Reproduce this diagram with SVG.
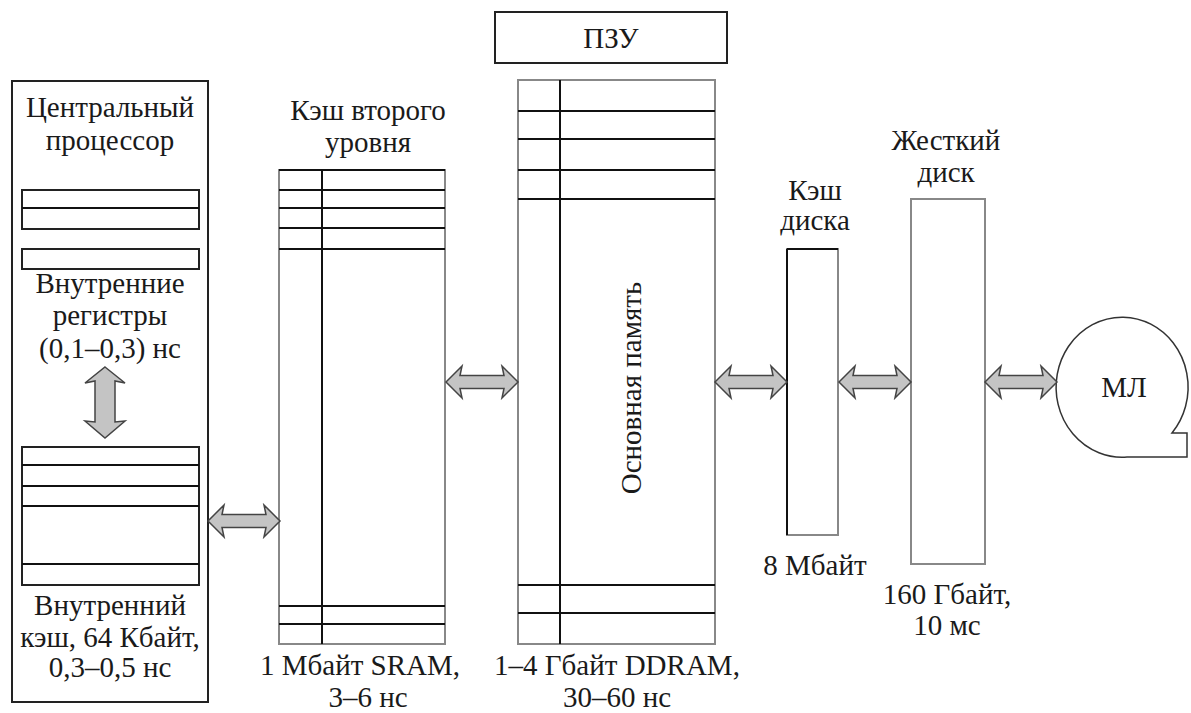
<svg xmlns="http://www.w3.org/2000/svg" width="1191" height="713" viewBox="0 0 1191 713" font-family="'Liberation Serif', 'Times New Roman', serif">
<style>
text{font-size:29px;fill:#1a1a1a;text-anchor:middle}
.box{fill:#fff;stroke:#222;stroke-width:2}
.gbox{fill:#fff;stroke:#888;stroke-width:2}
.ln{stroke:#111;stroke-width:2;fill:none}
.arr{fill:#c4c4c4;stroke:#444;stroke-width:1.5;stroke-linejoin:miter}
</style>
<defs>
<path id="harr" d="M0,0 L16,-16 L14,-6.5 L58,-6.5 L56,-16 L72,0 L56,16 L58,6.5 L14,6.5 L16,16 Z"/>
</defs>
<rect width="1191" height="713" fill="#fff"/>

<g id="cpu">
<rect class="box" x="12" y="81" width="196" height="621"/>
<text x="110" y="117">Центральный</text>
<text x="110" y="150">процессор</text>
<rect class="box" x="22" y="190" width="177" height="39"/>
<line class="ln" x1="22" y1="208" x2="199" y2="208"/>
<rect class="box" x="22" y="249" width="177" height="20"/>
<text x="110" y="293">Внутренние</text>
<text x="110" y="325">регистры</text>
<text x="110" y="358">(0,1–0,3) нс</text>
<rect class="box" x="22" y="447" width="177" height="138"/>
<line class="ln" x1="22" y1="465" x2="199" y2="465"/>
<line class="ln" x1="22" y1="486" x2="199" y2="486"/>
<line class="ln" x1="22" y1="506" x2="199" y2="506"/>
<line class="ln" x1="22" y1="564" x2="199" y2="564"/>
<text x="110" y="615">Внутренний</text>
<text x="110" y="647">кэш, 64 Кбайт,</text>
<text x="110" y="677">0,3–0,5 нс</text>
</g>

<g id="l2cache">
<text x="368" y="120">Кэш второго</text>
<text x="368" y="152">уровня</text>
<rect class="gbox" x="279" y="170" width="166" height="474"/>
<line class="ln" x1="279" y1="170" x2="445" y2="170"/>
<line class="ln" x1="279" y1="190" x2="445" y2="190"/>
<line class="ln" x1="279" y1="208" x2="445" y2="208"/>
<line class="ln" x1="279" y1="228" x2="445" y2="228"/>
<line class="ln" x1="279" y1="249" x2="445" y2="249"/>
<line class="ln" x1="279" y1="606" x2="445" y2="606"/>
<line class="ln" x1="279" y1="624" x2="445" y2="624"/>
<line class="ln" x1="322" y1="170" x2="322" y2="644"/>
<text x="360" y="675">1 Мбайт SRAM,</text>
<text x="368" y="707">3–6 нс</text>
</g>

<g id="rom">
<rect class="box" x="495" y="12" width="232" height="51"/>
<text x="611" y="48">ПЗУ</text>
</g>

<g id="mainmem">
<rect class="gbox" x="518" y="80" width="197" height="564"/>
<line class="ln" x1="518" y1="111" x2="715" y2="111"/>
<line class="ln" x1="518" y1="139" x2="715" y2="139"/>
<line class="ln" x1="518" y1="170" x2="715" y2="170"/>
<line class="ln" x1="518" y1="199" x2="715" y2="199"/>
<line class="ln" x1="518" y1="585" x2="715" y2="585"/>
<line class="ln" x1="518" y1="613" x2="715" y2="613"/>
<line class="ln" x1="560" y1="80" x2="560" y2="644"/>
<text x="0" y="0" transform="translate(641,388) rotate(-90)">Основная память</text>
<text x="617" y="675">1–4 Гбайт DDRAM,</text>
<text x="617" y="707">30–60 нс</text>
</g>

<g id="diskcache">
<text x="815" y="200">Кэш</text>
<text x="815" y="230">диска</text>
<rect class="gbox" x="787" y="249" width="51" height="286"/>
<line class="ln" x1="787" y1="249" x2="787" y2="535"/>
<line class="ln" x1="787" y1="249" x2="838" y2="249"/>
<text x="815" y="575">8 Мбайт</text>
</g>

<g id="hdd">
<text x="946" y="150">Жесткий</text>
<text x="946" y="182">диск</text>
<rect class="gbox" x="911" y="199" width="74" height="365"/>
<text x="947" y="604">160 Гбайт,</text>
<text x="947" y="635">10 мс</text>
</g>

<g id="tape">
<path d="M1172,433 A66,70 0 1 0 1127,457 L1187,457 L1187,433 Z" fill="#fff" stroke="#333" stroke-width="1.5"/>
<text x="1124" y="397">МЛ</text>
</g>

<g id="connectors">
<path class="arr" d="M105,367 L125,383 L115,381 L115,422 L125,421 L105,438 L85,421 L95,422 L95,381 L85,383 Z"/>
<use href="#harr" class="arr" x="208" y="521"/>
<use href="#harr" class="arr" x="446" y="382"/>
<use href="#harr" class="arr" x="715" y="382"/>
<use href="#harr" class="arr" x="839" y="382"/>
<use href="#harr" class="arr" x="985" y="382"/>
</g>
</svg>
